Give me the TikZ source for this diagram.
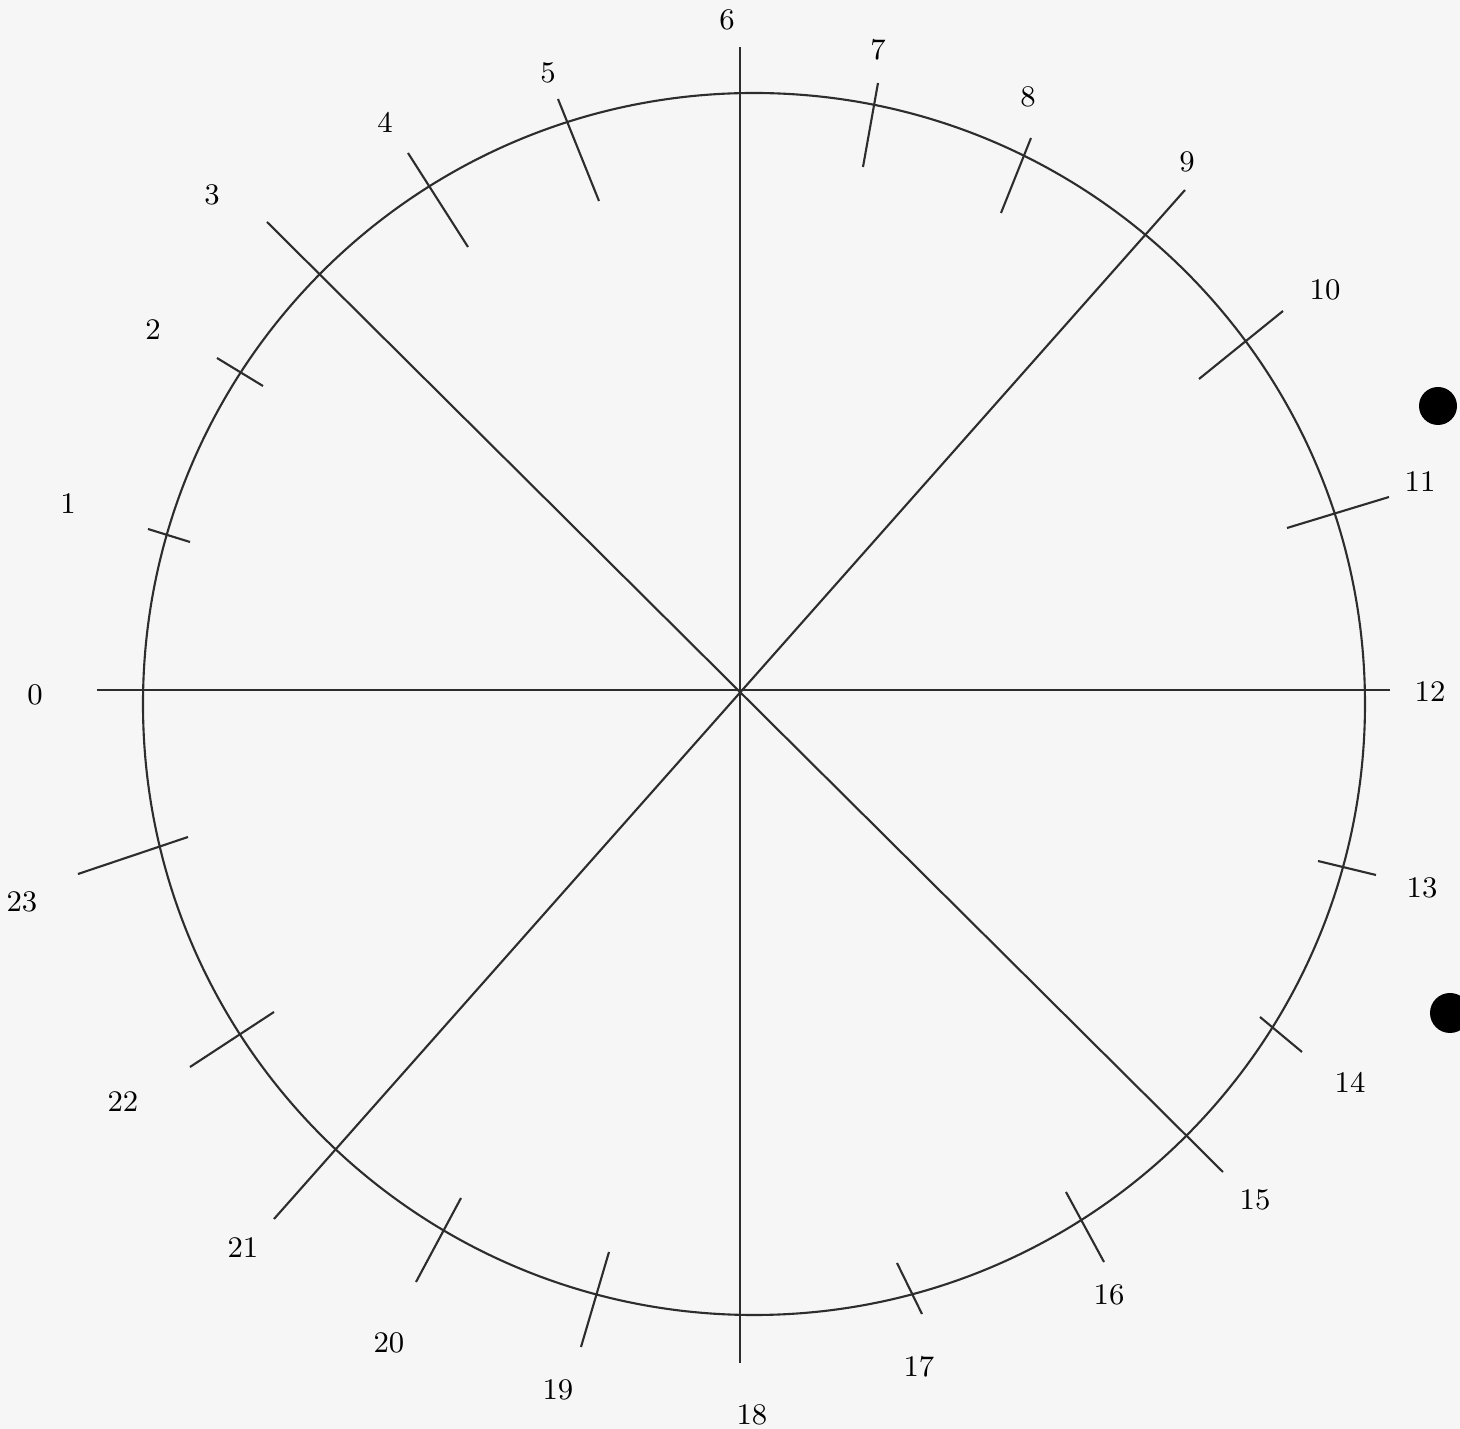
\documentclass[tikz,border=0pt]{standalone}
\usepackage{tikz}
\definecolor{inkgray}{RGB}{45,45,45}
\definecolor{pagegray}{RGB}{246,246,246}
\tikzset{
  hourline/.style={draw=inkgray, line width=0.6pt},
  tickmark/.style={draw=inkgray, line width=0.6pt},
  hourlabel/.style={inner sep=0pt, text=black, font=\fontsize{8.5}{10}\selectfont},
  punchhole/.style={fill=black, draw=none}
}

\begin{document}
\begin{tikzpicture}
  \fill[pagegray] (-7.40,-7.39) rectangle (7.20,6.90);
  \useasboundingbox (-7.40,-7.39) rectangle (7.20,6.90);

  % dial and the four long lines
  \draw[hourline] (0.14,-0.14) circle (6.11);
  \coordinate (west) at (-6.43,0);
  \coordinate (east) at (6.50,0);
  \coordinate (north) at (0,6.43);
  \coordinate (south) at (0,-6.73);
  \coordinate (nw) at (-4.73,4.68);
  \coordinate (se) at (4.83,-4.82);
  \coordinate (ne) at (4.45,5.00);
  \coordinate (sw) at (-4.66,-5.29);
  \draw[hourline] (west) -- (east);
  \draw[hourline] (north) -- (south);
  \draw[hourline] (nw) -- (se);
  \draw[hourline] (ne) -- (sw);

  % short ticks across the circle
  \foreach \ax/\ay/\bx/\by in {
      -5.92/1.61/-5.50/1.48, -5.23/3.32/-4.77/3.04,
      -3.32/5.37/-2.72/4.43, -1.82/5.91/-1.41/4.89,
      1.38/6.07/1.23/5.23, 2.91/5.52/2.61/4.77,
      5.43/3.79/4.59/3.11, 6.49/1.93/5.47/1.62,
      5.78/-1.71/6.36/-1.85, 5.20/-3.27/5.62/-3.62,
      3.26/-5.02/3.64/-5.72, 1.57/-5.73/1.82/-6.24,
      -1.31/-5.62/-1.59/-6.57, -2.79/-5.08/-3.24/-5.92,
      -5.50/-3.77/-4.66/-3.22, -6.62/-1.84/-5.52/-1.47}
    \draw[tickmark] (\ax,\ay) -- (\bx,\by);

  % hour numbers
  \foreach \n/\x/\y in {
      0/-7.05/-0.05, 1/-6.72/1.86, 2/-5.87/3.60, 3/-5.28/4.95,
      4/-3.55/5.68, 5/-1.92/6.17, 6/-0.13/6.70, 7/1.38/6.40,
      8/2.88/5.93, 9/4.47/5.28, 10/5.85/4.00, 11/6.80/2.08,
      12/6.90/-0.02, 13/6.82/-1.98, 14/6.10/-3.92, 15/5.15/-5.10,
      16/3.69/-6.05, 17/1.79/-6.77, 18/0.12/-7.25, 19/-1.82/-7.00,
      20/-3.51/-6.53, 21/-4.97/-5.58, 22/-6.17/-4.12, 23/-7.18/-2.12}
    \node[hourlabel] (h\n) at (\x,\y) {\n};

  \fill[punchhole] (6.98,2.84) circle (0.19);
  \fill[punchhole] (7.10,-3.23) circle (0.20);
\end{tikzpicture}
\end{document}
